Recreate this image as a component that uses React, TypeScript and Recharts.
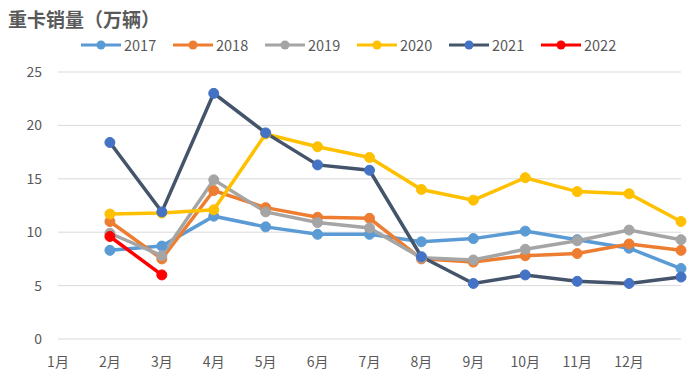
import { LineChart, Line, XAxis, YAxis, CartesianGrid } from "recharts";

const months = ["1月", "2月", "3月", "4月", "5月", "6月", "7月", "8月", "9月", "10月", "11月", "12月"];
const years = ["2017", "2018", "2019", "2020", "2021", "2022"];

const s2017 = [8.3, 8.7, 11.5, 10.5, 9.8, 9.8, 9.1, 9.4, 10.1, 9.3, 8.5, 6.6];
const s2018 = [11.0, 7.5, 13.9, 12.3, 11.4, 11.3, 7.5, 7.2, 7.8, 8.0, 8.9, 8.3];
const s2019 = [9.9, 7.8, 14.9, 11.9, 10.9, 10.4, 7.6, 7.4, 8.4, 9.2, 10.2, 9.3];
const s2020 = [11.7, 11.8, 12.1, 19.2, 18.0, 17.0, 14.0, 13.0, 15.1, 13.8, 13.6, 11.0];
const s2021 = [18.4, 11.9, 23.0, 19.3, 16.3, 15.8, 7.7, 5.2, 6.0, 5.4, 5.2, 5.8];
const s2022 = [9.6, 6.0];

const lineColors = ["#5B9BD5", "#ED7D31", "#A5A5A5", "#FFC000", "#44546A", "#FF0000"];
const dotColors = ["#5B9BD5", "#ED7D31", "#A5A5A5", "#FFC000", "#4472C4", "#FF0000"];

const series = [s2017, s2018, s2019, s2020, s2021, s2022];

// Excel plotted each month one category to the right of its label
const data = months.map((_, i) => {
  const row: Record<string, number | null> = { x: i + 1 };
  years.forEach((y, k) => {
    row[y] = series[k][i] ?? null;
  });
  return row;
});

const font = "'Noto Sans CJK SC', 'Noto Sans', sans-serif";
const textGray = "#595959";

function LegendBox() {
  return (
    <div style={{ position: "absolute", left: 81, top: 34, display: "flex", fontFamily: font }}>
      {years.map((y, k) => (
        <div key={y} style={{ display: "flex", alignItems: "center", width: 92 }}>
          <svg width={40} height={12}>
            <line x1={0} y1={6} x2={40} y2={6} stroke={lineColors[k]} strokeWidth={3} />
            <circle cx={20} cy={6} r={4.5} fill={dotColors[k]} />
          </svg>
          <span style={{ fontSize: 14.5, color: textGray, marginLeft: 3 }}>{y}</span>
        </div>
      ))}
    </div>
  );
}

export default function App() {
  return (
    <div style={{ position: "absolute", left: 0, top: 0, width: 695, height: 378, background: "#fff" }}>
      <div
        style={{
          position: "absolute",
          left: 8,
          top: 5,
          fontFamily: font,
          fontWeight: 700,
          fontSize: 19,
          color: textGray,
        }}
      >
        重卡销量（万辆）
      </div>
      <LegendBox />
      <LineChart width={695} height={378} data={data} margin={{ top: 72, right: 14, bottom: 0, left: 0 }}>
        <CartesianGrid vertical={false} stroke="#D9D9D9" />
        <XAxis
          dataKey="x"
          type="number"
          domain={[0, 12]}
          ticks={[0, 1, 2, 3, 4, 5, 6, 7, 8, 9, 10, 11]}
          tickFormatter={(v) => months[v]}
          axisLine={false}
          tickLine={false}
          height={39}
          tickMargin={12}
          tick={{ fontSize: 14, fill: textGray, fontFamily: font }}
          interval={0}
        />
        <YAxis
          domain={[0, 25]}
          ticks={[0, 5, 10, 15, 20, 25]}
          axisLine={false}
          tickLine={false}
          width={58}
          tickMargin={10}
          tick={{ fontSize: 14, fill: textGray, fontFamily: font }}
        />
        {years.map((y, k) => (
          <Line
            key={y}
            dataKey={y}
            stroke={lineColors[k]}
            strokeWidth={3.5}
            dot={{ r: 5, fill: dotColors[k], stroke: dotColors[k], strokeWidth: 1 }}
            activeDot={false}
            isAnimationActive={false}
            connectNulls={false}
          />
        ))}
      </LineChart>
    </div>
  );
}
